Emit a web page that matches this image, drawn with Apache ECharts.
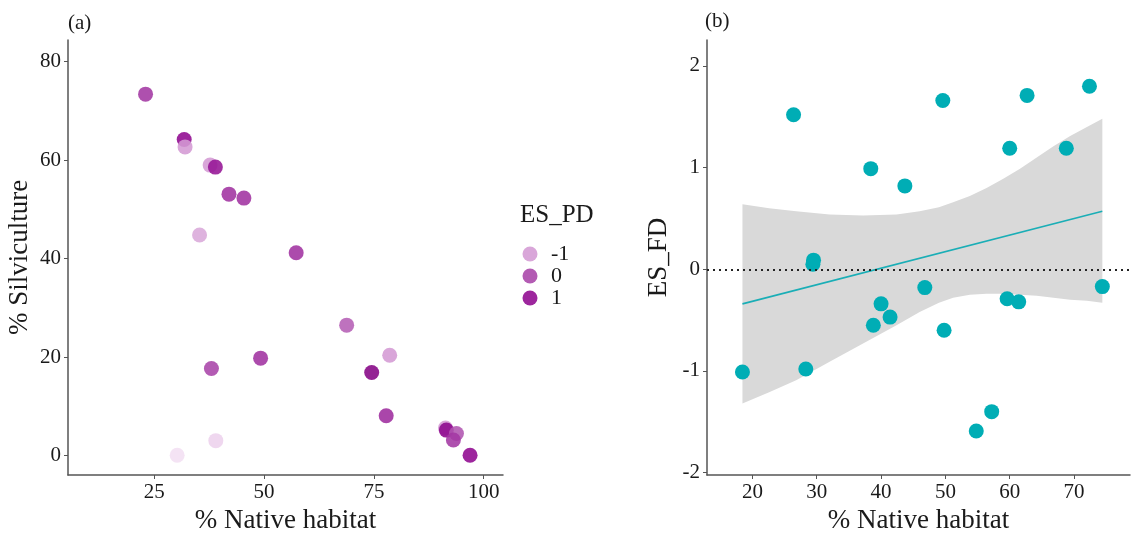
<!DOCTYPE html>
<html>
<head>
<meta charset="utf-8">
<script src="https://cdn.jsdelivr.net/npm/echarts@6/dist/echarts.min.js"></script>
<style>
  html, body { margin: 0; padding: 0; background: #fff; }
  #chart { width: 1131px; height: 533px; }
</style>
</head>
<body>
<div id="chart"></div>
<script>
// panel (a): % native habitat vs % silviculture, coloured by ES_PD
const nativeA = [23.0, 31.8, 32.0, 37.7, 38.9, 42.0, 45.4, 35.3, 57.3, 68.8, 78.6, 74.5, 49.2, 38.0, 77.8, 91.3, 91.5, 93.8, 93.1, 96.9, 30.2, 39.0]
const silvA = [73.4, 64.2, 62.7, 59.0, 58.6, 53.1, 52.3, 44.8, 41.2, 26.5, 20.4, 16.9, 19.8, 17.7, 8.1, 5.6, 5.2, 4.5, 3.2, 0.1, 0.1, 3.05]
const esPD = [0.2, 1, -1, -1, 0.8, 0.3, 0.3, -1.2, 0.3, -0.3, -1, 1.5, 0.3, 0, 0.4, -1, 1.2, -0.2, 0.2, 1, -2, -1.8]
const pdLegend = [-1, 0, 1]
const ticksAX = [25, 50, 75, 100]
const ticksAY = [0, 20, 40, 60, 80]

// panel (b): % native habitat vs ES_FD, with linear fit and 95% band
const nativeB = [18.45, 26.4, 28.3, 29.5, 29.4, 38.4, 38.8, 40.0, 41.4, 43.7, 46.8, 49.6, 49.8, 54.8, 57.2, 59.6, 60.0, 61.4, 62.7, 68.8, 72.4, 74.4]
const esFD = [-1.01, 1.52, -0.98, 0.09, 0.05, 0.99, -0.55, -0.34, -0.47, 0.82, -0.18, 1.66, -0.60, -1.59, -1.40, -0.29, 1.19, -0.32, 1.71, 1.19, 1.80, -0.17]
const fitX = [18.45, 74.4]
const fitY = [-0.34, 0.57]
const bandX = [18.45, 22.6, 26.8, 32.0, 37.2, 42.4, 46.0, 49.0, 51.2, 53.8, 56.4, 59.0, 61.6, 64.2, 66.8, 69.4, 72.0, 74.4]
const bandLo = [-1.32, -1.21, -1.09, -0.91, -0.73, -0.55, -0.42, -0.33, -0.28, -0.25, -0.24, -0.24, -0.25, -0.26, -0.28, -0.30, -0.31, -0.33]
const bandHi = [0.64, 0.60, 0.57, 0.54, 0.53, 0.54, 0.57, 0.61, 0.66, 0.72, 0.80, 0.89, 0.99, 1.10, 1.21, 1.31, 1.40, 1.48]
const ticksBX = [20, 30, 40, 50, 60, 70]
const ticksBY = [-2, -1, 0, 1, 2]

const FONT = '"Liberation Serif", "DejaVu Serif", serif'
const pdColors = ['#f3dff3', '#d49ad4', '#a844a8', '#900890', '#7a007a']
const teal = '#00adb5'

const chart = echarts.init(document.getElementById('chart'), null, { renderer: 'canvas' })

function axisBase(ticks) {
  return {
    type: 'value',
    splitLine: { show: false },
    axisLine: { show: true, onZero: false, lineStyle: { color: '#555', width: 1.5 } },
    axisTick: { show: true, length: 4, customValues: ticks, lineStyle: { color: '#555' } },
    axisLabel: { customValues: ticks, color: '#1a1a1a', fontFamily: FONT, fontSize: 21, margin: 7 },
    nameLocation: 'middle',
    nameTextStyle: { color: '#1a1a1a', fontFamily: FONT, fontSize: 27 }
  }
}

// legend for panel (a), colours taken from the same ramp as the visualMap
const legendGraphics = [{
  type: 'text', left: 520, top: 203,
  style: { text: 'ES_PD', font: '25px ' + FONT, fill: '#1a1a1a' }
}]
pdLegend.forEach((v, i) => {
  const cy = 254 + i * 22
  legendGraphics.push({
    type: 'circle', shape: { cx: 530, cy: cy, r: 7.5 },
    style: { fill: pdColors[v + 2], opacity: 0.88 }
  })
  legendGraphics.push({
    type: 'text', x: 551, y: cy,
    style: { text: String(v), font: '22px ' + FONT, fill: '#1a1a1a', verticalAlign: 'middle' }
  })
})

chart.setOption({
  animation: false,
  backgroundColor: '#fff',
  grid: [
    { left: 68, top: 40, width: 435, height: 435, outerBoundsMode: 'none', containLabel: false },
    { left: 707, top: 40, width: 423, height: 435, outerBoundsMode: 'none', containLabel: false }
  ],
  xAxis: [
    Object.assign(axisBase(ticksAX), { gridIndex: 0, min: 5.34, max: 104.4, name: '% Native habitat', nameGap: 29 }),
    Object.assign(axisBase(ticksBX), { gridIndex: 1, min: 12.94, max: 78.7, name: '% Native habitat', nameGap: 29 })
  ],
  yAxis: [
    Object.assign(axisBase(ticksAY), { gridIndex: 0, min: -3.92, max: 84.4, name: '% Silviculture', nameGap: 35 }),
    Object.assign(axisBase(ticksBY), { gridIndex: 1, min: -2.023, max: 2.255, name: 'ES_FD', nameGap: 35 })
  ],
  visualMap: [{
    type: 'continuous', show: false, seriesIndex: 0, dimension: 2,
    min: -2, max: 2, inRange: { color: pdColors }
  }],
  graphic: [
    { type: 'text', left: 68, top: 13, style: { text: '(a)', font: '21px ' + FONT, fill: '#1a1a1a' } },
    { type: 'text', left: 705, top: 11, style: { text: '(b)', font: '21px ' + FONT, fill: '#1a1a1a' } }
  ].concat(legendGraphics),
  series: [
    {
      type: 'scatter', xAxisIndex: 0, yAxisIndex: 0,
      symbolSize: 15,
      itemStyle: { opacity: 0.88 },
      data: nativeA.map((x, i) => [x, silvA[i], esPD[i]])
    },
    {
      type: 'custom', xAxisIndex: 1, yAxisIndex: 1, silent: true, z: 1,
      data: bandX.map((x, i) => [x, bandLo[i], bandHi[i]]),
      renderItem: function (params, api) {
        if (params.dataIndex !== 0) return null
        const pts = []
        for (let i = 0; i < bandX.length; i++) pts.push(api.coord([bandX[i], bandHi[i]]))
        for (let i = bandX.length - 1; i >= 0; i--) pts.push(api.coord([bandX[i], bandLo[i]]))
        return { type: 'polygon', shape: { points: pts }, style: { fill: '#d9d9d9' } }
      }
    },
    {
      type: 'line', xAxisIndex: 1, yAxisIndex: 1, z: 3,
      symbol: 'none', silent: true,
      lineStyle: { color: '#1aaeb6', width: 1.6 },
      data: fitX.map((x, i) => [x, fitY[i]]),
      markLine: {
        silent: true, symbol: ['none', 'none'], label: { show: false },
        lineStyle: { color: '#222', type: [2, 4], width: 2 },
        data: [{ yAxis: 0 }]
      }
    },
    {
      type: 'scatter', xAxisIndex: 1, yAxisIndex: 1, z: 4,
      symbolSize: 15,
      itemStyle: { color: teal, opacity: 1 },
      data: nativeB.map((x, i) => [x, esFD[i]])
    }
  ]
})
</script>
</body>
</html>
